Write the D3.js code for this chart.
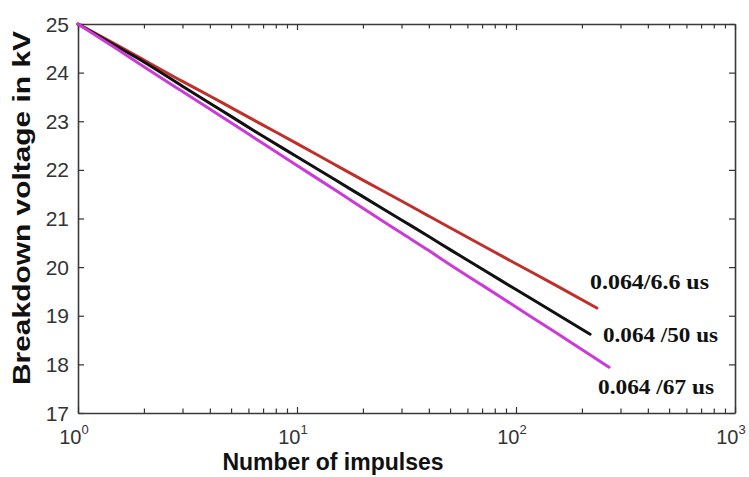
<!DOCTYPE html>
<html><head><meta charset="utf-8">
<script src="https://cdn.jsdelivr.net/npm/d3@7"></script>
<style>body{margin:0;background:#fff}svg{display:block}</style>
</head><body>
<svg id="c" width="749" height="477"></svg>
<script>
const impulses = [1,1.5,2,3,4,5,7,10,15,20,30,40,50,70,100,150];
const redEnd = 234, blackEnd = 218, magEnd = 266;
const red     = [25,24.57,24.26,23.82,23.52,23.28,22.92,22.54,22.10,21.79,21.36,21.05,20.81,20.45,20.07,19.64];
const black   = [25,24.54,24.22,23.72,23.37,23.10,22.69,22.27,21.79,21.45,20.97,20.63,20.36,19.96,19.54,19.06];
const magenta = [25,24.49,24.12,23.61,23.25,22.97,22.54,22.09,21.58,21.21,20.70,20.34,20.05,19.63,19.18,18.67];
const endValues = {red:19.16, black:18.62, magenta:17.94};
const seriesNames = ["0.064/6.6 us","0.064 /50 us","0.064 /67 us"];
const yTicks = [17,18,19,20,21,22,23,24,25];
const xMajor = [1,10,100,1000];

const svg = d3.select("#c");
const x = d3.scaleLog().domain([1,1000]).range([78,735]);
const y = d3.scaleLinear().domain([17,25]).range([413,24]);

const xMinor = [];
[1,10,100].forEach(d=>{for(let k=2;k<=9;k++) xMinor.push(d*k);});

// axes
const tickCol = "#333";
const gL = svg.append("g").attr("transform",`translate(${x.range()[0]},0)`)
  .call(d3.axisLeft(y).tickValues(yTicks).tickSizeInner(-6).tickSizeOuter(0).tickFormat(""));
const gR = svg.append("g").attr("transform",`translate(${x.range()[1]},0)`)
  .call(d3.axisRight(y).tickValues(yTicks).tickSizeInner(-6).tickSizeOuter(0).tickFormat(""));
const gB = svg.append("g").attr("transform",`translate(0,${y.range()[0]})`)
  .call(d3.axisBottom(x).tickValues(xMajor.concat(xMinor)).tickSizeInner(-6).tickSizeOuter(0).tickFormat(""));
const gT = svg.append("g").attr("transform",`translate(0,${y.range()[1]})`)
  .call(d3.axisTop(x).tickValues(xMajor.concat(xMinor)).tickSizeInner(-6).tickSizeOuter(0).tickFormat(""));
[gB,gT].forEach(g=>g.selectAll(".tick line").attr("y2",function(d){return xMajor.includes(d)? +d3.select(this).attr("y2") : +d3.select(this).attr("y2")*0.75;}));
[gL,gR,gB,gT].forEach(g=>{
  g.select(".domain").attr("stroke","#3a3a3a").attr("stroke-width",1.6);
  g.selectAll(".tick line").attr("stroke",tickCol).attr("stroke-width",1.2);
});

// tick labels
svg.append("g").selectAll("text").data(yTicks).join("text")
  .attr("x",69).attr("y",d=>y(d)).attr("dy","0.36em").attr("text-anchor","end")
  .attr("font-family","Liberation Sans, Arial, sans-serif").attr("font-size",21).attr("fill","#333")
  .text(d=>d);
const xl = svg.append("g").selectAll("text").data(xMajor).join("text")
  .attr("x",d=>x(d)-4).attr("y",444).attr("text-anchor","middle")
  .attr("font-family","Liberation Sans, Arial, sans-serif").attr("font-size",20).attr("fill","#333");
xl.append("tspan").text("10");
xl.append("tspan").attr("dy",-10).attr("font-size",13).text(d=>Math.round(Math.log10(d)));

// axis titles
svg.append("text").attr("transform","translate(30,208) rotate(-90)").attr("text-anchor","middle")
  .attr("font-family","Liberation Sans, Arial, sans-serif").attr("font-weight","bold").attr("font-size",23)
  .attr("textLength",354).attr("lengthAdjust","spacingAndGlyphs").attr("fill","#111")
  .text("Breakdown voltage in kV");
svg.append("text").attr("x",333).attr("y",470).attr("text-anchor","middle")
  .attr("font-family","Liberation Sans, Arial, sans-serif").attr("font-weight","bold").attr("font-size",23)
  .attr("fill","#111").text("Number of impulses");

// lines
const line = d3.line().x(d=>x(d[0])).y(d=>y(d[1])).curve(d3.curveMonotoneX);
const series = [
  {vals:red, end:[redEnd,endValues.red], col:"#c0302a"},
  {vals:black, end:[blackEnd,endValues.black], col:"#111111"},
  {vals:magenta, end:[magEnd,endValues.magenta], col:"#cc3ad8"}
];
series.forEach(s=>{
  const pts = impulses.map((v,i)=>[v,s.vals[i]]).concat([s.end]);
  svg.append("path").attr("d",line(pts)).attr("fill","none").attr("stroke",s.col).attr("stroke-width",3).attr("stroke-linecap","round");
});

// labels
const labPos = [[590,289,119],[603,342,115],[598,394,116]];
svg.append("g").selectAll("text").data(seriesNames).join("text")
  .attr("x",(d,i)=>labPos[i][0]).attr("y",(d,i)=>labPos[i][1])
  .attr("textLength",(d,i)=>labPos[i][2]).attr("lengthAdjust","spacingAndGlyphs")
  .attr("font-family","Liberation Serif, Times New Roman, serif").attr("font-weight","bold").attr("font-size",20)
  .attr("fill","#111").text(d=>d);
</script>
</body></html>
